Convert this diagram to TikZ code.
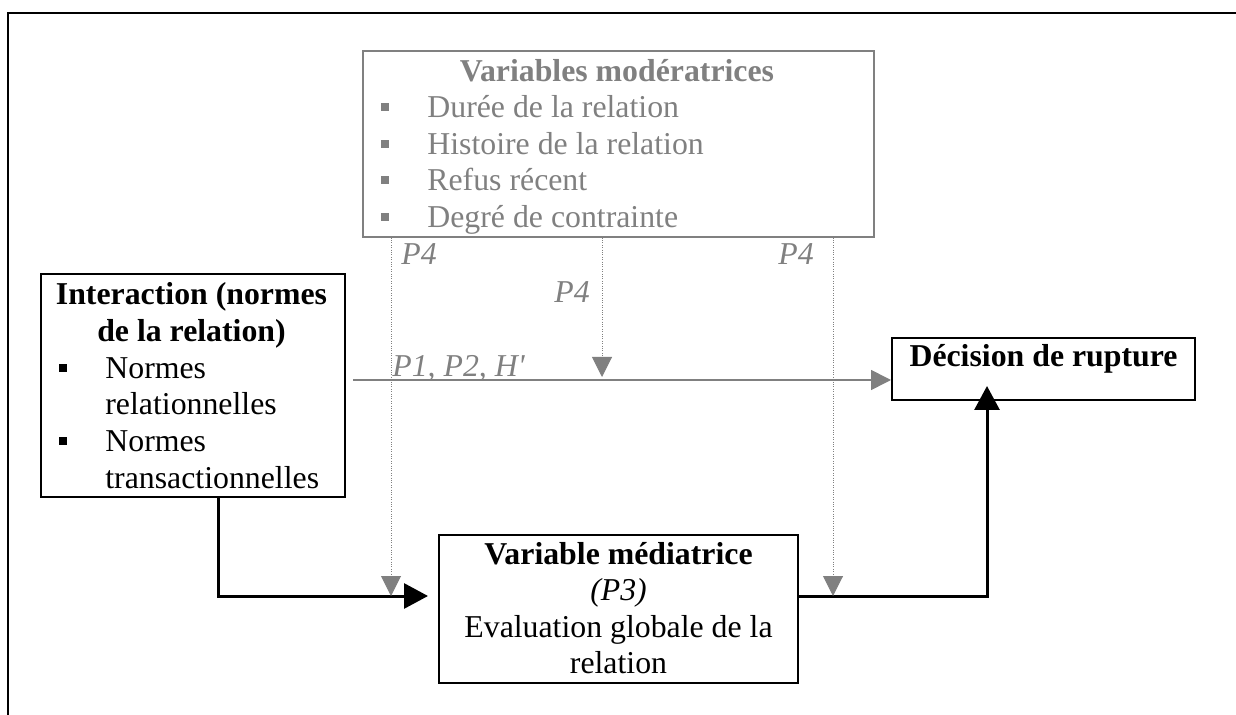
\documentclass[tikz,border=0pt]{standalone}
\usepackage{fontspec}
\setmainfont{Liberation Serif}
\usetikzlibrary{arrows.meta}
\definecolor{mgray}{HTML}{808080}
\begin{document}
\begin{tikzpicture}[x=0.5pt,y=-0.5pt,
  txt/.style={inner sep=0pt, font=\fontsize{15.9}{18.3}\selectfont},
  btxt/.style={txt, font=\fontsize{15.9}{18.3}\selectfont\bfseries},
  itxt/.style={txt, font=\fontsize{15.9}{18.3}\selectfont\itshape},
  gtxt/.style={txt, text=mgray},
  gbtxt/.style={btxt, text=mgray},
  gitxt/.style={itxt, text=mgray},
  box/.style={draw, line width=1pt, inner sep=0pt},
  gbox/.style={draw=mgray, line width=0.7pt, inner sep=0pt},
  bul/.style={fill, inner sep=0pt, minimum size=4.3pt},
  gbul/.style={fill=mgray, inner sep=0pt, minimum size=4pt},
  blk/.style={line width=1.5pt, -{Triangle[length=12pt,width=12.5pt]}},
  garr/.style={draw=mgray, line width=0.8pt, -{Triangle[length=10pt,width=10pt]}},
  gdot/.style={draw=mgray, line width=0.5pt, dash pattern=on 0.5pt off 0.7pt,
    -{Triangle[length=10pt,width=10pt]}},
]
\useasboundingbox (0,0) rectangle (1236,715);
% outer frame
\draw[line width=0.85pt] (1240,13) -- (8,13) -- (8,720);

% boxes
\node[gbox, minimum width=255.5pt, minimum height=93pt] (mod) at (618.5,144) {};
\node[box, minimum width=152pt, minimum height=111.5pt] (inter) at (193,385.5) {};
\node[box, minimum width=151.5pt, minimum height=31pt] (dec) at (1043.5,369) {};
\node[box, minimum width=179.5pt, minimum height=74pt] (med) at (618.5,609) {};

% moderator texts
\node[gbtxt, anchor=base] (modt) at (617,82) {Variables modératrices};
\node[gtxt, anchor=base west] (m1) at (427,118) {Durée de la relation};
\node[gtxt, anchor=base west] (m2) at (427,154.5) {Histoire de la relation};
\node[gtxt, anchor=base west] (m3) at (427,191) {Refus récent};
\node[gtxt, anchor=base west] (m4) at (427,227.5) {Degré de contrainte};
\node[gbul] (mb1) at (385,107.5) {};
\node[gbul] (mb2) at (385,144) {};
\node[gbul] (mb3) at (385,180.5) {};
\node[gbul] (mb4) at (385,217) {};

% interaction texts
\node[btxt, anchor=base] (it1) at (191.5,305) {Interaction (normes};
\node[btxt, anchor=base] (it2) at (191.5,341.6) {de la relation)};
\node[txt, anchor=base west] (i1) at (105,378.2) {Normes};
\node[txt, anchor=base west] (i2) at (105,414.8) {relationnelles};
\node[txt, anchor=base west] (i3) at (105,451.4) {Normes};
\node[txt, anchor=base west] (i4) at (105,488) {transactionnelles};
\node[bul] (ib1) at (63,368) {};
\node[bul] (ib2) at (63,441) {};

% decision text
\node[btxt, anchor=base] (dect) at (1043.5,367) {Décision de rupture};

% mediator texts
\node[btxt, anchor=base] (md1) at (618.5,564) {Variable médiatrice};
\node[itxt, anchor=base] (md2) at (618.5,600.6) {(P3)};
\node[txt, anchor=base] (md3) at (618.5,637) {Evaluation globale de la};
\node[txt, anchor=base] (md4) at (618.5,673.6) {relation};

% black connectors
\draw[blk, shorten >=5pt] ([xshift=12.5pt]inter.south) |- ([yshift=6.5pt]med.west);
\draw[blk, shorten >=-7.5pt] ([yshift=6.5pt]med.east) -| ([xshift=-28.25pt]dec.south);

% gray direct arrow
\coordinate (gs) at ([xshift=3.5pt,yshift=2.75pt]inter.east);
\draw[garr] (gs) -- (gs -| dec.west);
\node[gitxt, anchor=base west] (p12) at (392,377) {P1, P2, H\textquotesingle};

% dotted moderator arrows
\coordinate (tL) at (391,596);
\coordinate (tM) at (602,377);
\coordinate (tR) at (833,596);
\draw[gdot] ([xshift=-113.75pt]mod.south) -- (tL);
\draw[gdot] ([xshift=-8.25pt]mod.south) -- (tM);
\draw[gdot] ([xshift=107.25pt]mod.south) -- (tR);

\node[gitxt, anchor=base west] (p4a) at (401,265) {P4};
\node[gitxt, anchor=base west] (p4b) at (554,303) {P4};
\node[gitxt, anchor=base west] (p4c) at (778,265) {P4};
\end{tikzpicture}
\end{document}
